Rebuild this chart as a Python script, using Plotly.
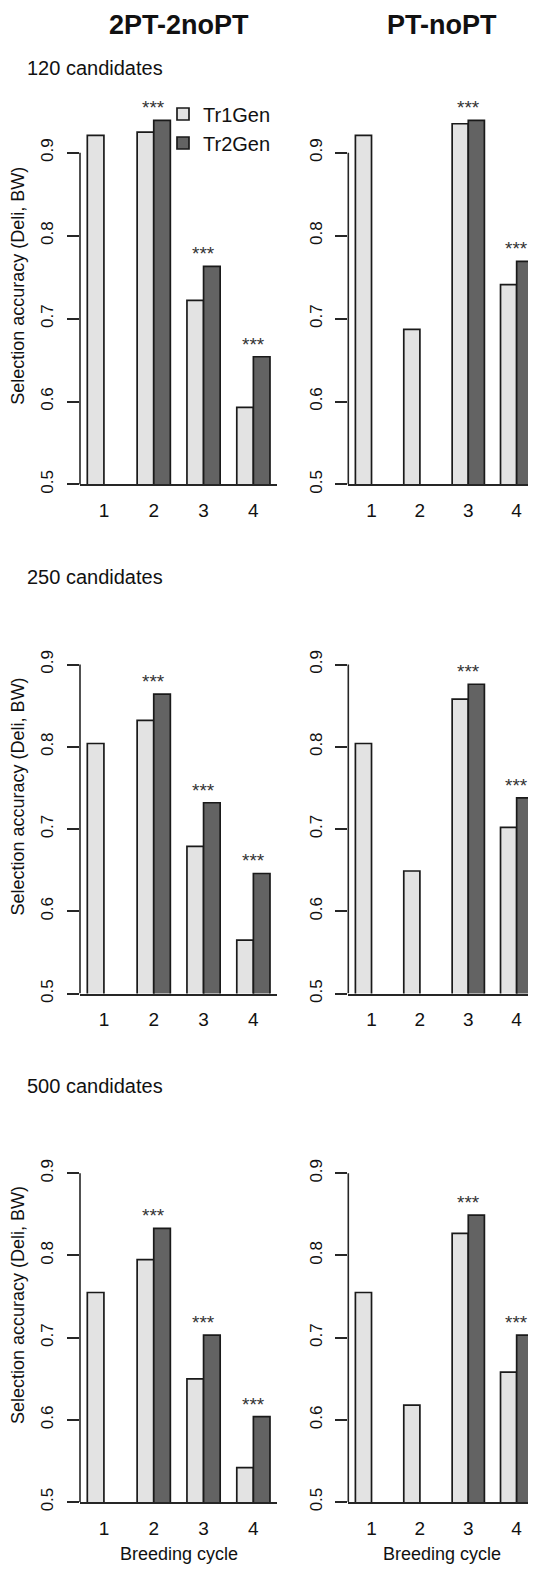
import plotly.graph_objects as go

# ---------------- data ----------------
cycles = [1, 2, 3, 4]
schemes = ["2PT-2noPT", "PT-noPT"]
row_labels = ["120 candidates", "250 candidates", "500 candidates"]
series_names = ["Tr1Gen", "Tr2Gen"]
y_ticks = [0.5, 0.6, 0.7, 0.8, 0.9]
y_ticktext = ["0.5", "0.6", "0.7", "0.8", "0.9"]

# 120 candidates
tr1_2pt_120 = [0.921, 0.925, 0.722, 0.593]
tr2_2pt_120 = [None, 0.939, 0.763, 0.654]
tr1_pt_120 = [0.921, 0.687, 0.935, 0.741]
tr2_pt_120 = [None, None, 0.939, 0.769]
# 250 candidates
tr1_2pt_250 = [0.804, 0.832, 0.679, 0.565]
tr2_2pt_250 = [None, 0.864, 0.732, 0.646]
tr1_pt_250 = [0.804, 0.649, 0.858, 0.702]
tr2_pt_250 = [None, None, 0.876, 0.738]
# 500 candidates
tr1_2pt_500 = [0.755, 0.795, 0.650, 0.542]
tr2_2pt_500 = [None, 0.833, 0.703, 0.604]
tr1_pt_500 = [0.755, 0.618, 0.827, 0.658]
tr2_pt_500 = [None, None, 0.849, 0.703]

sig_2pt = ["", "***", "***", "***"]
sig_pt = ["", "", "***", "***"]

panels = [
    [(tr1_2pt_120, tr2_2pt_120, sig_2pt), (tr1_pt_120, tr2_pt_120, sig_pt)],
    [(tr1_2pt_250, tr2_2pt_250, sig_2pt), (tr1_pt_250, tr2_pt_250, sig_pt)],
    [(tr1_2pt_500, tr2_2pt_500, sig_2pt), (tr1_pt_500, tr2_pt_500, sig_pt)],
]

# ---------------- layout geometry (pixels in the 536x1578 page) ----------------
PAGE_W, PAGE_H = 536, 1578
OFF = 8                      # default body margin of the html page
FW, FH = PAGE_W - OFF, PAGE_H - OFF


def px_x(px):
    return (px - OFF) / FW


def px_y(py):
    return 1 - (py - OFF) / FH


FONT = "Liberation Sans, Arial, Helvetica, sans-serif"
LIGHT, DARK = "#e3e3e3", "#636363"
EDGE = "#1a1a1a"
AXC = "#262626"
TXT = "#111111"

cols = [  # left px, right px, x range
    (80.0, 277.3, [0.52, 4.48]),
    (348.3, 536.0, [0.52, 4.40]),
]
rows = [  # pixel of y=0.5, pixels per unit
    (487.2, 834.0),
    (999.3, 827.5),
    (1510.7, 826.7),
]
Y_TOP = 0.98

fig = go.Figure()
annotations = []
shapes = []
layout_axes = {}

for r, (p05, ppu) in enumerate(rows):
    ytop_px = p05 - (Y_TOP - 0.5) * ppu
    ydom = [px_y(p05), px_y(ytop_px)]
    for c, (xl, xr, xrange_) in enumerate(cols):
        n = r * 2 + c + 1
        xa = "x" if n == 1 else f"x{n}"
        ya = "y" if n == 1 else f"y{n}"
        tr1, tr2, sig = panels[r][c]
        for s, (vals, col) in enumerate(((tr1, LIGHT), (tr2, DARK))):
            fig.add_trace(go.Bar(
                x=cycles, y=vals, name=series_names[s],
                marker=dict(color=col, line=dict(color=EDGE, width=1.7)),
                xaxis=xa, yaxis=ya, offsetgroup=str(s),
                showlegend=(n == 1), legendgroup=series_names[s],
            ))
        # significance stars above the higher bar of each group
        for k, lab in zip(cycles, sig):
            if lab:
                top = max(v for v in (tr1[k - 1], tr2[k - 1]) if v is not None)
                annotations.append(dict(
                    x=k, y=top, xref=xa, yref=ya, text=lab, showarrow=False,
                    xanchor="center", yanchor="bottom", yshift=0,
                    font=dict(family=FONT, size=19, color="#333333")))
        xkey = "xaxis" if n == 1 else f"xaxis{n}"
        ykey = "yaxis" if n == 1 else f"yaxis{n}"
        layout_axes[xkey] = dict(
            domain=[px_x(xl), px_x(xr)], range=xrange_, anchor=ya,
            tickmode="array", tickvals=cycles, ticktext=[str(v) for v in cycles],
            ticks="", showgrid=False, zeroline=False,
            showline=True, linecolor=AXC, linewidth=1.6,
            tickfont=dict(family=FONT, size=19, color=TXT),
            ticklabelstandoff=8, fixedrange=True,
        )
        layout_axes[ykey] = dict(
            domain=ydom, range=[0.5, Y_TOP], anchor=xa,
            tickmode="array", tickvals=y_ticks, ticktext=y_ticktext,
            tickangle=-90, ticks="outside", ticklen=12, tickwidth=1.6,
            tickcolor=AXC, showgrid=False, zeroline=False, showline=False,
            tickfont=dict(family=FONT, size=17, color=TXT),
            ticklabelstandoff=7, fixedrange=True,
        )
        # y-axis line spanning the tick range only (R style)
        shapes.append(dict(
            type="line", xref=f"{xa} domain", x0=0, x1=0,
            yref=ya, y0=y_ticks[0], y1=y_ticks[-1],
            line=dict(color=AXC, width=1.6)))
        if c == 0:
            annotations.append(dict(
                x=px_x(18.3), y=(ydom[0] + ydom[1]) / 2, xref="paper", yref="paper",
                text="Selection accuracy (Deli, BW)", textangle=-90, showarrow=False,
                xanchor="center", yanchor="middle",
                font=dict(family=FONT, size=18, color=TXT)))
        if r == 0:
            annotations.append(dict(
                x=0.5, y=px_y(7.9), xref=f"{xa} domain", yref="paper",
                text=f"<b>{schemes[c]}</b>", showarrow=False,
                xanchor="center", yanchor="top",
                font=dict(family=FONT, size=27, color=TXT)))
        if r == len(rows) - 1:
            annotations.append(dict(
                x=0.5, y=px_y(1550.7), xref=f"{xa} domain", yref="paper",
                text="Breeding cycle", showarrow=False,
                xanchor="center", yanchor="top",
                font=dict(family=FONT, size=18, color=TXT)))
    annotations.append(dict(
        x=px_x(25), y=px_y(55.2 + 512 * r), xref="paper", yref="paper",
        text=row_labels[r], showarrow=False, xanchor="left", yanchor="top",
        font=dict(family=FONT, size=20, color=TXT)))

fig.update_layout(
    width=FW, height=FH, margin=dict(l=0, r=0, t=0, b=0),
    paper_bgcolor="white", plot_bgcolor="white",
    barmode="group", bargap=1 / 3, bargroupgap=0,
    showlegend=True,
    legend=dict(x=px_x(163), y=px_y(95), xanchor="left", yanchor="top",
                bgcolor="rgba(0,0,0,0)", font=dict(family=FONT, size=20, color=TXT),
                tracegroupgap=0, itemwidth=30),
    annotations=annotations, shapes=shapes,
    **layout_axes,
)

fig.write_html("out.html")
